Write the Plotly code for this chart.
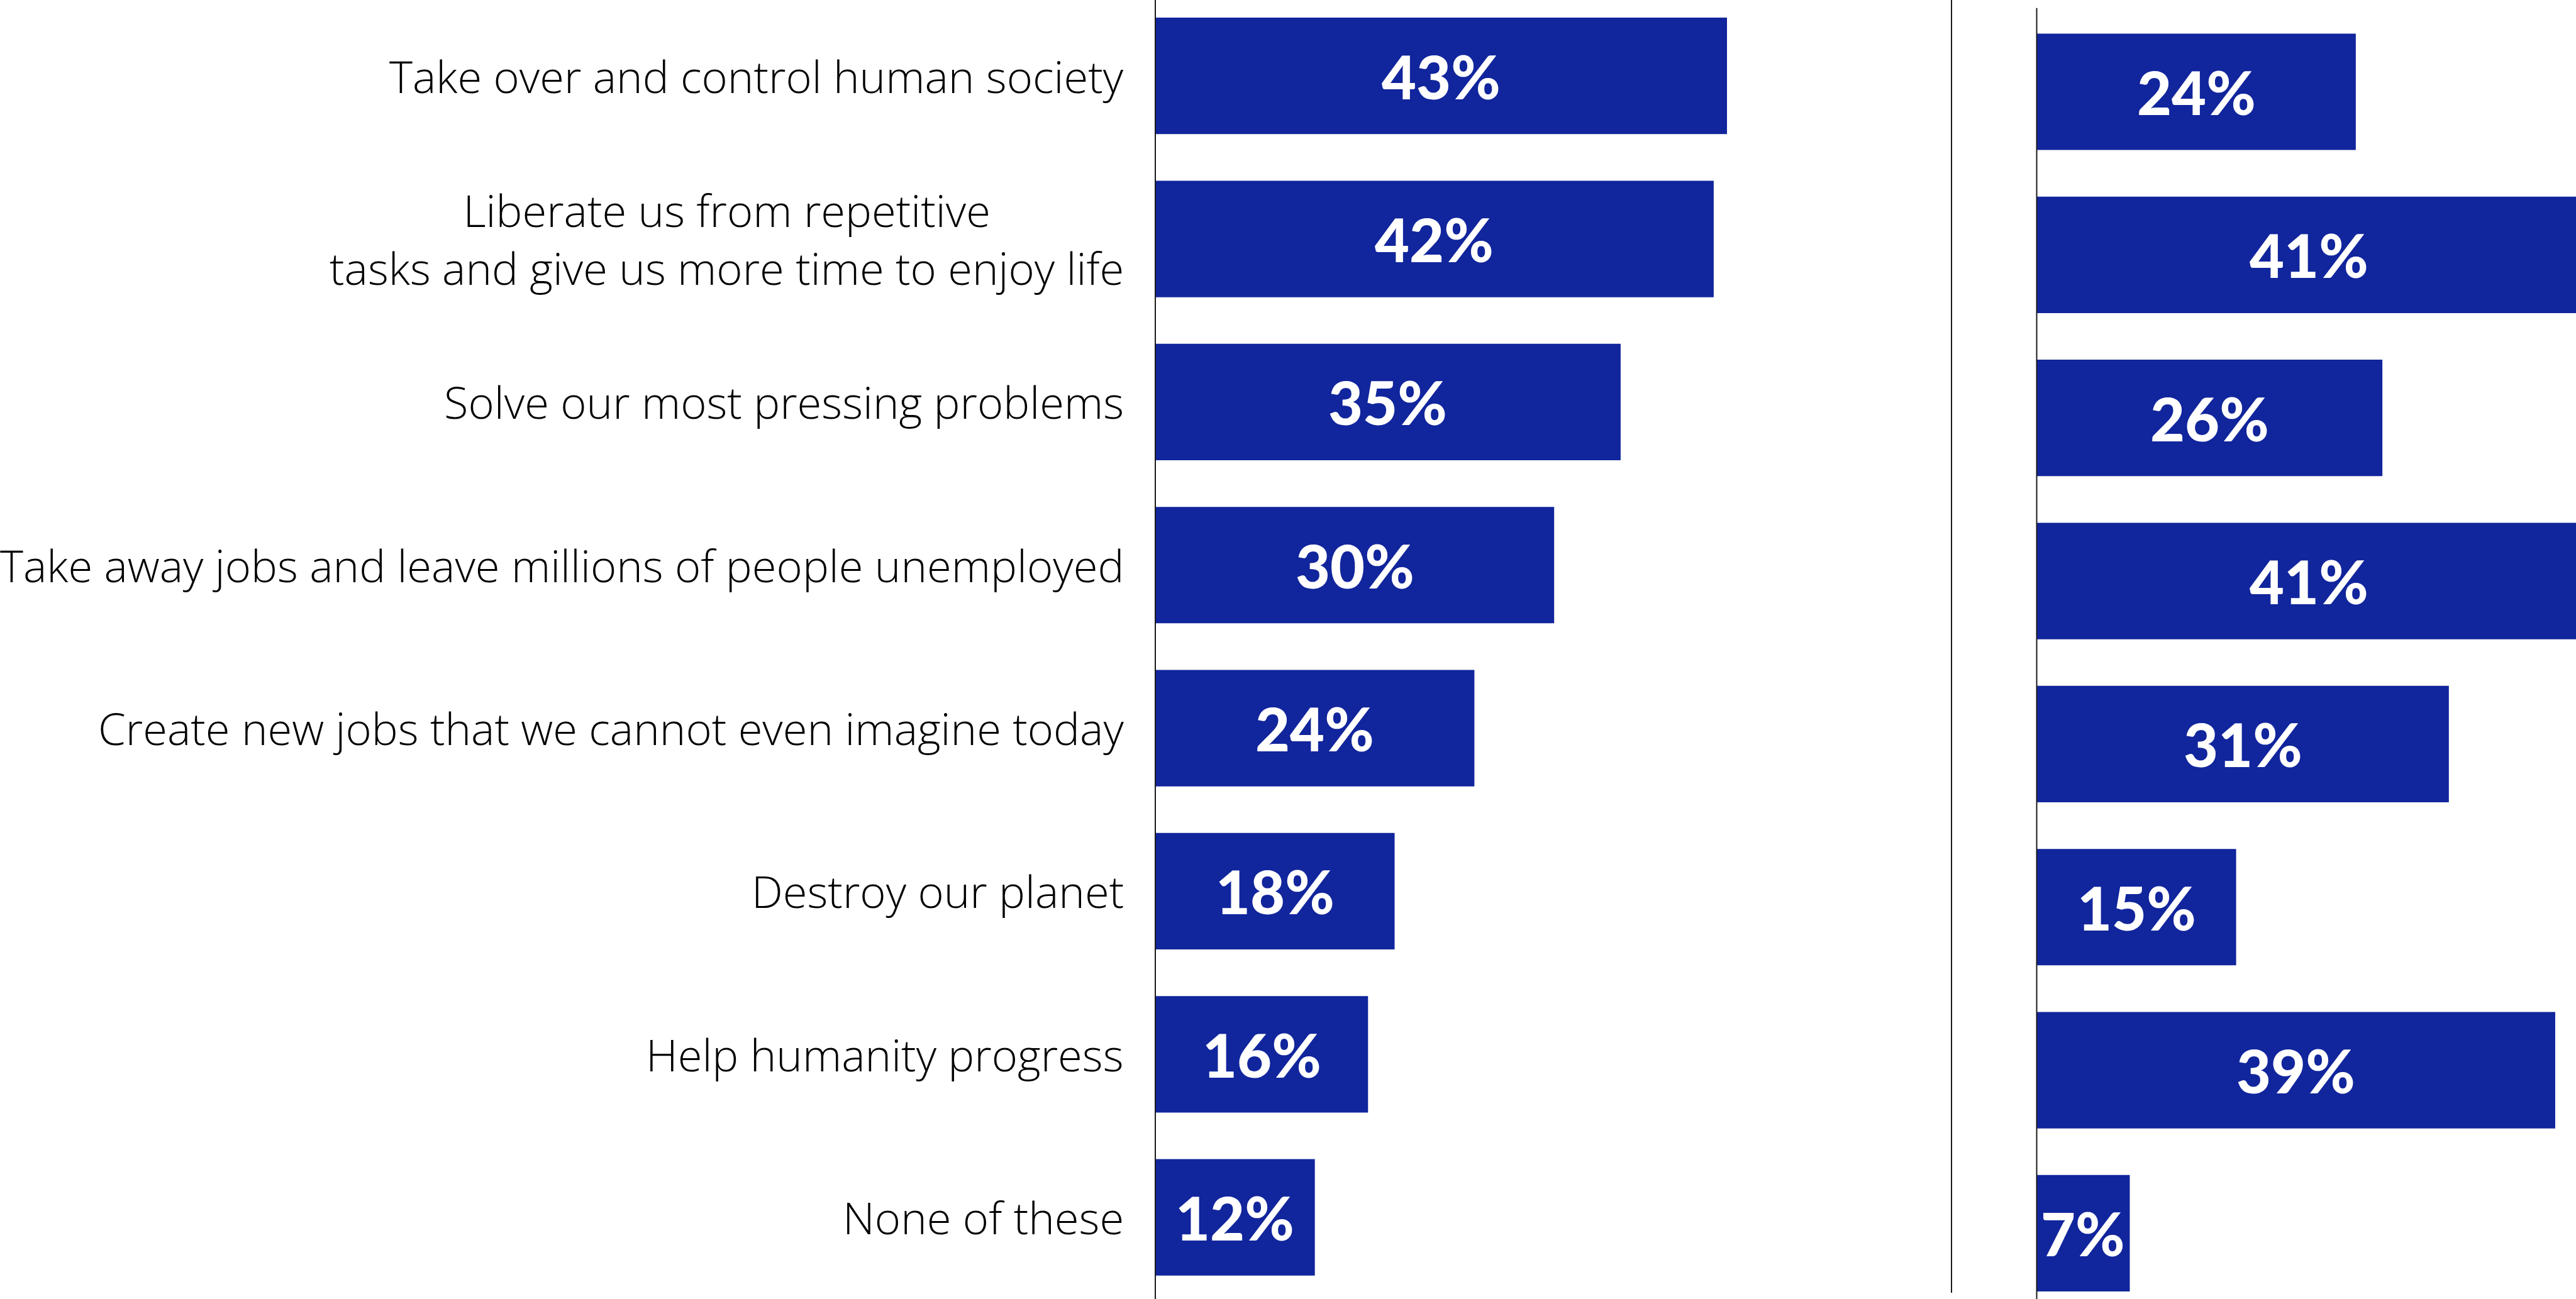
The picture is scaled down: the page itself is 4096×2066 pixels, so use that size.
import plotly.graph_objects as go

# Survey answers, top to bottom
categories = [
    "Take over and control human society",
    "Liberate us from repetitive<br>tasks and give us more time to enjoy life",
    "Solve our most pressing problems",
    "Take away jobs and leave millions of people unemployed",
    "Create new jobs that we cannot even imagine today",
    "Destroy our planet",
    "Help humanity progress",
    "None of these",
]
left_values = [43, 42, 35, 30, 24, 18, 16, 12]
right_values = [24, 41, 26, 41, 31, 15, 39, 7]

W, H = 4096, 2066
BAR_COLOR = "#11259C"
PX_PER_PCT = 21.14          # horizontal scale shared by both panels
LEFT_X0, SEP_X, RIGHT_X0 = 1837, 3103, 3238.5
ROW = 259.35                # vertical distance between rows
LEFT_TOP, RIGHT_TOP = 120.7, 146.0   # centre of first row in each panel

fig = go.Figure()

fig.add_trace(go.Bar(
    x=left_values, y=categories, orientation="h",
    xaxis="x", yaxis="y", marker=dict(color=BAR_COLOR, line=dict(width=0)),
    width=0.714, hoverinfo="skip", showlegend=False,
))
fig.add_trace(go.Bar(
    x=right_values, y=categories, orientation="h",
    xaxis="x2", yaxis="y2", marker=dict(color=BAR_COLOR, line=dict(width=0)),
    width=0.714, hoverinfo="skip", showlegend=False,
))

annotations = []
value_font = dict(family="Lato", size=95, color="white", weight=900)
for cat, v in zip(categories, left_values):
    annotations.append(dict(
        x=v / 2, y=cat, xref="x", yref="y", text=f"{v}%",
        showarrow=False, xanchor="center", yanchor="middle", font=value_font,
    ))
for cat, v in zip(categories, right_values):
    annotations.append(dict(
        x=v / 2, y=cat, xref="x2", yref="y2", text=f"{v}%",
        showarrow=False, xanchor="center", yanchor="middle", font=value_font,
    ))
label_font = dict(family="Open Sans", size=70.5, color="black", weight=300)
for cat in categories:
    annotations.append(dict(
        x=1789 / W, y=cat, xref="paper", yref="y", text=cat,
        showarrow=False, xanchor="right", yanchor="middle", align="center",
        font=label_font,
    ))

line_style = dict(color="#1a1a1a", width=2)
shapes = [
    dict(type="line", xref="paper", yref="paper", x0=LEFT_X0 / W, x1=LEFT_X0 / W,
         y0=0, y1=1, line=line_style),
    dict(type="line", xref="paper", yref="paper", x0=SEP_X / W, x1=SEP_X / W,
         y0=1 - 2056 / H, y1=1, line=line_style),
    dict(type="line", xref="paper", yref="paper", x0=RIGHT_X0 / W, x1=RIGHT_X0 / W,
         y0=0, y1=1 - 12.7 / H, line=line_style),
]

hidden = dict(showgrid=False, zeroline=False, showticklabels=False, showline=False,
              ticks="", fixedrange=True)

fig.update_layout(
    width=W, height=H,
    margin=dict(l=0, r=0, t=0, b=0),
    paper_bgcolor="white", plot_bgcolor="white",
    xaxis=dict(domain=[LEFT_X0 / W, SEP_X / W],
               range=[0, (SEP_X - LEFT_X0) / PX_PER_PCT], **hidden),
    xaxis2=dict(domain=[RIGHT_X0 / W, 1],
                range=[0, (W - RIGHT_X0) / PX_PER_PCT], **hidden),
    yaxis=dict(domain=[0, 1], anchor="x", type="category",
               categoryorder="array", categoryarray=categories,
               range=[(H - LEFT_TOP) / ROW, -LEFT_TOP / ROW], **hidden),
    yaxis2=dict(domain=[0, 1], anchor="x2", type="category",
                categoryorder="array", categoryarray=categories,
                range=[(H - RIGHT_TOP) / ROW, -RIGHT_TOP / ROW], **hidden),
    annotations=annotations,
    shapes=shapes,
)

fig.write_html("out.html")
